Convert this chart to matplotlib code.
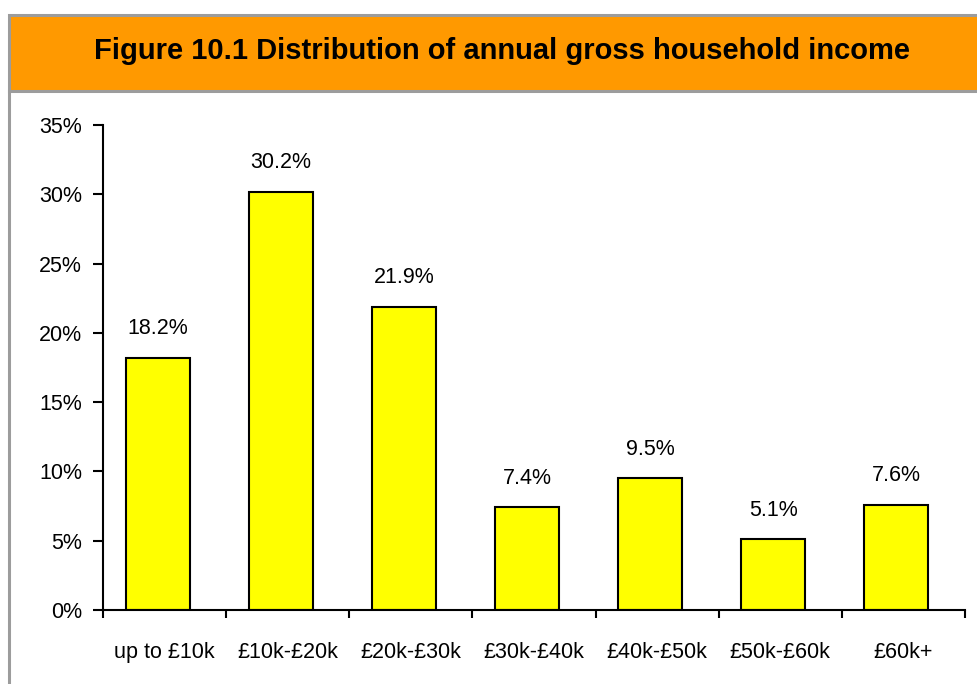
import numpy as np
import matplotlib; matplotlib.use("Agg")
import matplotlib.pyplot as plt
from matplotlib.patches import Rectangle
from matplotlib.lines import Line2D
from matplotlib.ticker import FixedLocator, PercentFormatter

categories = ["up to £10k", "£10k-£20k", "£20k-£30k", "£30k-£40k",
              "£40k-£50k", "£50k-£60k", "£60k+"]
shares = [18.2, 30.2, 21.9, 7.4, 9.5, 5.1, 7.6]
title = "Figure 10.1 Distribution of annual gross household income"

plt.rcParams["font.family"] = ["Liberation Sans", "DejaVu Sans"]

W, H = 977, 684
fig = plt.figure(figsize=(W/100, H/100), dpi=100)

# orange title band with grey frame
band = Rectangle((9/W, 1-91/H), 1.2, 76/H, transform=fig.transFigure,
                 facecolor="#FF9900", edgecolor="#9C9C9C", lw=2.2, clip_on=False)
fig.patches.append(band)
fig.lines.append(Line2D([9/W, 9/W], [0, 1-91/H], transform=fig.transFigure,
                        color="#9C9C9C", lw=2.2))
fig.text(502/W, 1-51/H, title, ha="center", va="center",
         fontsize=21, fontweight="bold")

ax = fig.add_axes([103/W, 1-610/H, (965-103)/W, (610-125)/H])
x = np.arange(len(categories))
ax.bar(x - 0.057, shares, width=0.52, color="#FFFF00", edgecolor="black", lw=1.5)
for xi, v in zip(x, shares):
    ax.text(xi - 0.057, v + 2.1, f"{v:.1f}%", ha="center", va="center", fontsize=15.5)

ax.set_xlim(-0.5, len(categories) - 0.5)
ax.set_ylim(0, 35)
ax.set_yticks(np.arange(0, 36, 5))
ax.yaxis.set_major_formatter(PercentFormatter(decimals=0))
ax.set_xticks(x)
ax.set_xticklabels(categories)
ax.xaxis.set_minor_locator(FixedLocator(np.arange(-0.5, len(categories), 1.0)))
ax.tick_params(axis="x", which="major", length=0, pad=23, labelsize=15.5)
ax.tick_params(axis="x", which="minor", length=6, width=1.5, direction="out")
ax.tick_params(axis="y", length=7, width=1.5, direction="out", labelsize=15.5, pad=8)
for s in ["top", "right"]:
    ax.spines[s].set_visible(False)
for s in ["left", "bottom"]:
    ax.spines[s].set_linewidth(1.5)

fig.savefig("out.png", dpi=100)
